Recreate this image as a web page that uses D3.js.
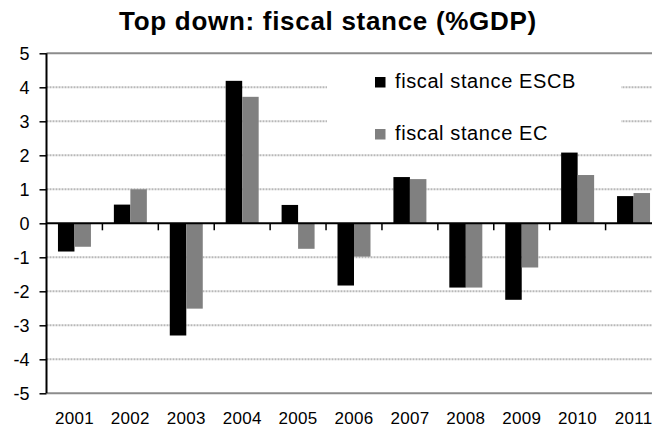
<!DOCTYPE html>
<html>
<head>
<meta charset="utf-8">
<script src="https://cdn.jsdelivr.net/npm/d3@7"></script>
<style>
  html, body { margin: 0; padding: 0; background: #fff; }
  svg { display: block; font-family: Arial, "Liberation Sans", sans-serif; }
</style>
</head>
<body>
<div id="chart"></div>
<script>
const years = ["2001", "2002", "2003", "2004", "2005", "2006", "2007", "2008", "2009", "2010", "2011"];
const escb = [-0.83, 0.55, -3.30, 4.19, 0.54, -1.83, 1.36, -1.89, -2.25, 2.08, 0.80];
const ec = [-0.69, 1.00, -2.51, 3.72, -0.75, -0.98, 1.30, -1.89, -1.30, 1.42, 0.89];
const seriesNames = ["fiscal stance ESCB", "fiscal stance EC"];
const seriesColors = ["#000000", "#808080"];
const yTicks = [-5, -4, -3, -2, -1, 0, 1, 2, 3, 4, 5];
const title = 'Top down: fiscal stance (%GDP)';

const fullWidth = 652;
const fullHeight = 431;
const plot = { left: 46.5, right: 661.5, top: 53.3, bottom: 393.3 };

const svg = d3.select('#chart')
  .append('svg')
  .attr('width', fullWidth)
  .attr('height', fullHeight);

const x0 = d3.scaleBand()
  .domain(years)
  .range([plot.left, plot.right])
  .paddingInner(0.41)
  .paddingOuter(0.205);

const x1 = d3.scaleBand()
  .domain([0, 1])
  .range([0, x0.bandwidth()]);

const y = d3.scaleLinear()
  .domain([-5, 5])
  .range([plot.bottom, plot.top]);

const step = x0.step();

// gridlines (dotted, top and bottom solid like the plot border)
svg.append('g')
  .selectAll('line')
  .data(yTicks.filter(t => t !== 0))
  .join('line')
  .attr('x1', plot.left)
  .attr('x2', plot.right)
  .attr('y1', d => y(d))
  .attr('y2', d => y(d))
  .attr('stroke', d => Math.abs(d) === 5 ? '#8c8c8c' : '#b8b8b8')
  .attr('stroke-width', 2)
  .attr('stroke-dasharray', d => Math.abs(d) === 5 ? null : '2,1');

// legend background hides gridlines behind it
svg.append('rect')
  .attr('x', 327)
  .attr('y', 63)
  .attr('width', 294)
  .attr('height', 84)
  .attr('fill', '#fff');

// bars
const series = [escb, ec];
svg.append('g')
  .selectAll('g')
  .data(series)
  .join('g')
  .attr('fill', (d, i) => seriesColors[i])
  .each(function (vals, si) {
    d3.select(this).selectAll('rect')
      .data(vals)
      .join('rect')
      .attr('x', (v, i) => x0(years[i]) + x1(si))
      .attr('width', x1.bandwidth())
      .attr('y', v => y(Math.max(0, v)))
      .attr('height', v => Math.abs(y(v) - y(0)));
  });

// zero line with category ticks
svg.append('line')
  .attr('x1', plot.left)
  .attr('x2', plot.right)
  .attr('y1', y(0))
  .attr('y2', y(0))
  .attr('stroke', '#000')
  .attr('stroke-width', 2);

svg.append('g')
  .selectAll('line')
  .data(d3.range(1, years.length))
  .join('line')
  .attr('x1', i => plot.left + i * step)
  .attr('x2', i => plot.left + i * step)
  .attr('y1', y(0))
  .attr('y2', y(0) + 7)
  .attr('stroke', '#000')
  .attr('stroke-width', 1.5);

// y axis
const yAxis = d3.axisLeft(y)
  .tickValues(yTicks)
  .tickSize(7)
  .tickPadding(10)
  .tickFormat(d => String(d));

const gy = svg.append('g')
  .attr('transform', `translate(${plot.left}, 0)`)
  .call(yAxis);
gy.select('.domain').remove();
gy.selectAll('.tick line').attr('stroke', '#000').attr('stroke-width', 1.5);
gy.selectAll('.tick text')
  .attr('font-size', 18)
  .attr('fill', '#000')
  .attr('font-family', 'Arial, "Liberation Sans", sans-serif');

svg.append('line')
  .attr('x1', plot.left)
  .attr('x2', plot.left)
  .attr('y1', plot.top)
  .attr('y2', plot.bottom)
  .attr('stroke', '#000')
  .attr('stroke-width', 2);

// x labels
svg.append('g')
  .selectAll('text')
  .data(years)
  .join('text')
  .attr('x', d => x0(d) + x0.bandwidth() / 2)
  .attr('y', 424)
  .attr('text-anchor', 'middle')
  .attr('font-size', 17)
  .attr('letter-spacing', 0.3)
  .text(d => d);

// legend
const legend = svg.append('g')
  .selectAll('g')
  .data(seriesNames)
  .join('g')
  .attr('transform', (d, i) => `translate(375, ${77 + i * 52})`);

legend.append('rect')
  .attr('width', 10.5)
  .attr('height', 10.5)
  .attr('fill', (d, i) => seriesColors[i]);

legend.append('text')
  .attr('x', 20)
  .attr('y', 11)
  .attr('font-size', 20)
  .attr('letter-spacing', 0.6)
  .text(d => d);

// title
svg.append('text')
  .attr('x', 328)
  .attr('y', 30)
  .attr('text-anchor', 'middle')
  .attr('font-size', 26)
  .attr('font-weight', 'bold')
  .attr('letter-spacing', 0.7)
  .text(title);
</script>
</body>
</html>
